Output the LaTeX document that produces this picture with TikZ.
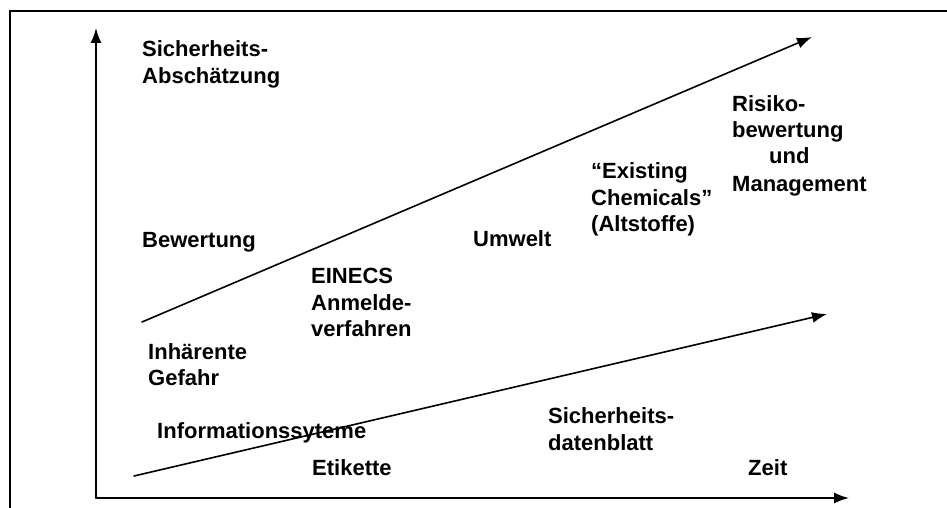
\documentclass[tikz,border=0pt]{standalone}
\usepackage{fontspec}
\setmainfont{Liberation Sans}
\usetikzlibrary{arrows.meta}
\begin{document}
\begin{tikzpicture}[x=1pt,y=-1pt,
  lbl/.style={anchor=base west,inner sep=0pt,font=\fontsize{22}{26}\selectfont\bfseries},
  ln/.style={line width=1.6pt,line cap=round},
  arr/.style={ln,-{Latex[length=15pt,width=11pt]}}]
\useasboundingbox (0,0) rectangle (947,508);
% frame
\draw[line width=1.8pt] (10,508) -- (10,11) -- (947,11);
% axes
\coordinate (O) at (96,498);
\coordinate (Ytip) at (96,28);
\coordinate (Xtip) at (849,498);
\draw[arr] (O) -- (Ytip);
\draw[arr] (O) -- (Xtip);
% trend lines
\coordinate (U0) at (142,322);
\coordinate (U1) at (812,37);
\coordinate (L0) at (134,476);
\coordinate (L1) at (827,314);
\draw[arr] (U0) -- (U1);
\draw[arr] (L0) -- (L1);
% labels
\node[lbl] (sa1) at (142,57) {Sicherheits-};
\node[lbl] (sa2) at (142,83.5) {Abschätzung};
\node[lbl] (bew) at (142,247) {Bewertung};
\node[lbl] (ein1) at (311,283.5) {EINECS};
\node[lbl] (ein2) at (311,310.5) {Anmelde-};
\node[lbl] (ein3) at (311,336.5) {verfahren};
\node[lbl] (umw) at (473,246.5) {Umwelt};
\node[lbl] (ex1) at (591,178.5) {“Existing};
\node[lbl] (ex2) at (591,205.5) {Chemicals”};
\node[lbl] (ex3) at (591,231.5) {(Altstoffe)};
\node[lbl] (ri1) at (732,111.5) {Risiko-};
\node[lbl] (ri2) at (732,137.5) {bewertung};
\node[lbl] (ri3) at (769,163.5) {und};
\node[lbl] (ri4) at (732,191) {Management};
\node[lbl] (ih1) at (148,359) {Inhärente};
\node[lbl] (ih2) at (148,385) {Gefahr};
\node[lbl] (inf) at (157,438.5) {Informationssyteme};
\node[lbl] (eti) at (312,475) {Etikette};
\node[lbl] (sd1) at (548,423.5) {Sicherheits-};
\node[lbl] (sd2) at (548,450) {datenblatt};
\node[lbl] (zeit) at (748,475) {Zeit};
\end{tikzpicture}
\end{document}
